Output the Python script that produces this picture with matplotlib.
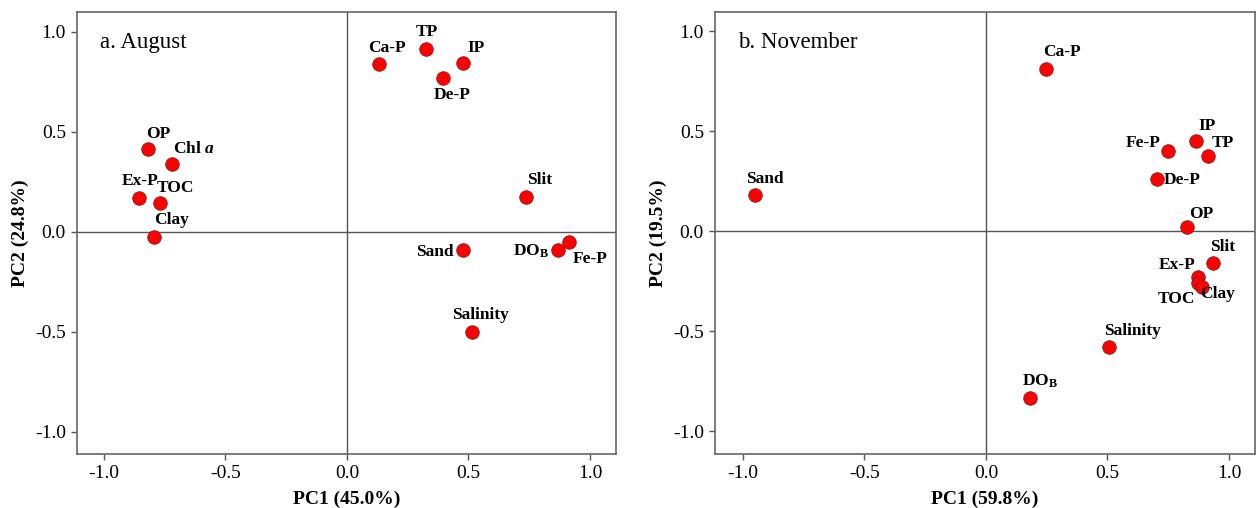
import matplotlib
matplotlib.use("Agg")
import matplotlib.pyplot as plt

plt.rcParams['font.family'] = ['Liberation Serif', 'DejaVu Serif']
plt.rcParams['mathtext.fontset'] = 'custom'
plt.rcParams['mathtext.rm'] = 'Liberation Serif:bold'
plt.rcParams['mathtext.bf'] = 'Liberation Serif:bold'
plt.rcParams['mathtext.it'] = 'Liberation Serif:bold:italic'

# ---- Data: August ----
aug_labels = ['Ca-P', 'TP', 'IP', 'De-P', 'OP', 'Chl $\\mathit{a}$', 'Ex-P', 'TOC', 'Clay',
              'Slit', 'Sand', 'DO$_{\\mathbf{B}}$', 'Fe-P', 'Salinity']
aug_pc1 = [0.132, 0.325, 0.477, 0.395, -0.819, -0.72, -0.856, -0.77, -0.794,
           0.737, 0.477, 0.868, 0.914, 0.514]
aug_pc2 = [0.84, 0.915, 0.845, 0.77, 0.415, 0.34, 0.17, 0.145, -0.025,
           0.175, -0.09, -0.09, -0.05, -0.50]

# ---- Data: November ----
nov_labels = ['Ca-P', 'Sand', 'Fe-P', 'IP', 'TP', 'De-P', 'OP', 'Slit', 'Ex-P', 'TOC', 'Clay',
              'Salinity', 'DO$_{\\mathbf{B}}$']
nov_pc1 = [0.247, -0.95, 0.749, 0.864, 0.914, 0.704, 0.827, 0.934, 0.872, 0.872, 0.889,
           0.506, 0.181]
nov_pc2 = [0.81, 0.18, 0.40, 0.45, 0.375, 0.26, 0.02, -0.16, -0.23, -0.26, -0.28,
           -0.58, -0.835]

ticks = [-1.0, -0.5, 0.0, 0.5, 1.0]
tick_labels = ['-1.0', '-0.5', '0.0', '0.5', '1.0']

# label offsets (pixels) relative to each point
aug_off = [(8, 16), (1, 17), (13, 15), (9, -17), (10, 15), (22, 15), (1, 17), (16, 15), (18, 17),
           (14, 17), (-28, -2), (-27, -1), (21, -17), (9, 17)]
nov_off = [(16, 17), (10, 16), (-25, 8), (11, 15), (15, 13), (25, -1), (14, 13), (10, 16),
           (-21, 12), (-21, -16), (16, -7), (24, 16), (10, 17)]

fig = plt.figure(figsize=(12.56, 5.08), dpi=100)
ax1 = fig.add_axes([77/1256, 54/508, 539/1256, 442/508])
ax2 = fig.add_axes([715/1256, 54/508, 540/1256, 442/508])

def draw(ax, xs, ys, labels, offs, title, xlabel, ylabel, xlim, ylim):
    ax.axhline(0, color='#555555', lw=1.0, zorder=1)
    ax.axvline(0, color='#555555', lw=1.0, zorder=1)
    ax.scatter(xs, ys, s=95, color='#ff0000', edgecolor='#8b1a1a', linewidth=0.6, zorder=3)
    for x, y, lab, (dx, dy) in zip(xs, ys, labels, offs):
        ax.annotate(lab, (x, y), xytext=(dx, dy), textcoords='offset pixels',
                    ha='center', va='center', fontsize=12.5, fontweight='bold', zorder=4)
    ax.set_xlim(*xlim)
    ax.set_ylim(*ylim)
    ax.set_xticks(ticks)
    ax.set_xticklabels(tick_labels)
    ax.set_yticks(ticks)
    ax.set_yticklabels(tick_labels)
    ax.tick_params(direction='out', length=4, width=1, color='#555555', labelsize=14,
                   pad=4)
    for sp in ax.spines.values():
        sp.set_color('#666666')
        sp.set_linewidth(1.2)
    ax.set_xlabel(xlabel, fontsize=14, fontweight='bold', labelpad=6)
    ax.set_ylabel(ylabel, fontsize=14, fontweight='bold', labelpad=4)
    ax.text(0.043, 0.932, title, transform=ax.transAxes, fontsize=16.5, ha='left', va='center')

draw(ax1, aug_pc1, aug_pc2, aug_labels, aug_off, 'a. August', 'PC1 (45.0%)', 'PC2 (24.8%)',
     (-1.111, 1.107), (-1.11, 1.10))
draw(ax2, nov_pc1, nov_pc2, nov_labels, nov_off, 'b. November', 'PC1 (59.8%)', 'PC2 (19.5%)',
     (-1.115, 1.107), (-1.115, 1.095))

fig.savefig('out.png', dpi=100)
